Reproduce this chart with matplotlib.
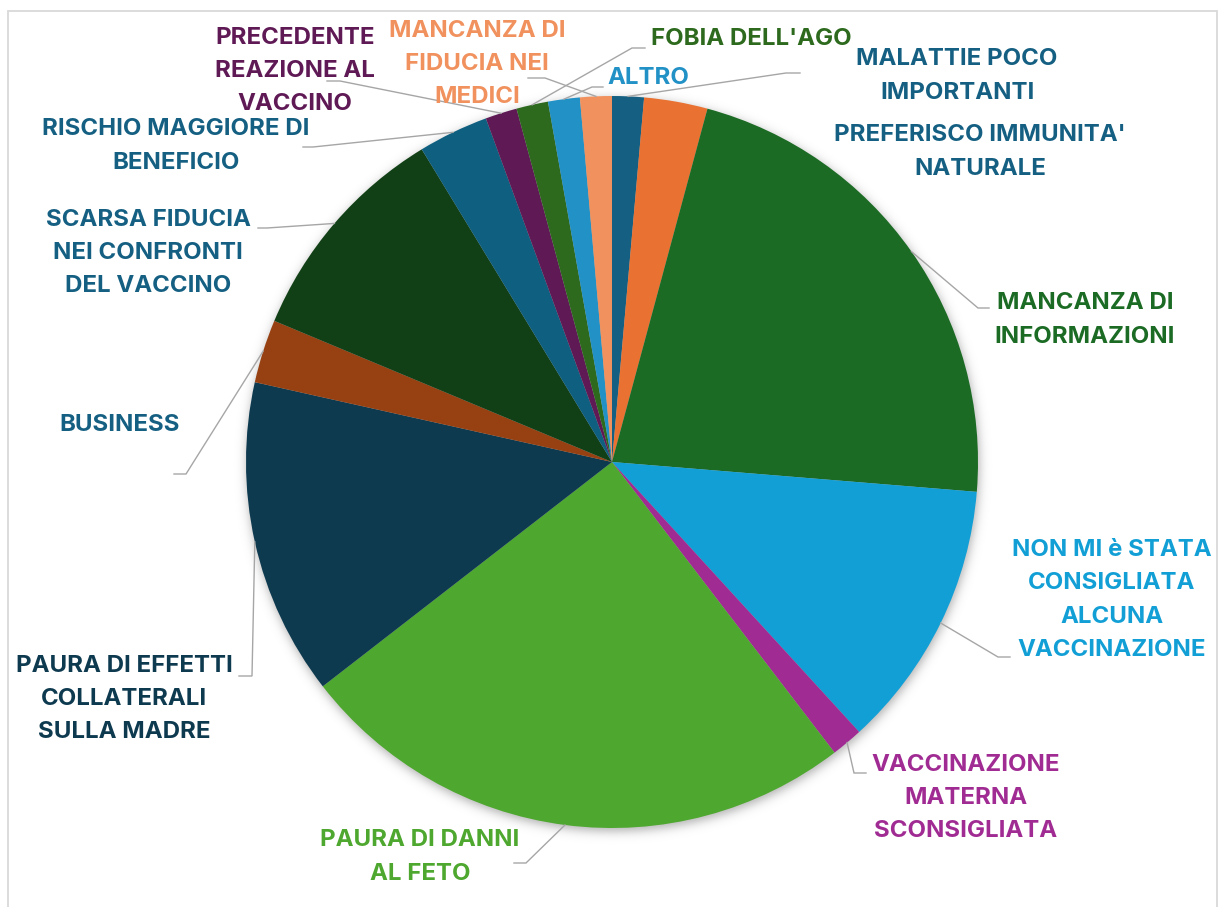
import numpy as np
import matplotlib
matplotlib.use("Agg")
import matplotlib.pyplot as plt
from matplotlib.patches import Rectangle

W, H = 1224, 907

categories = [
    "MALATTIE POCO\nIMPORTANTI",
    "PREFERISCO IMMUNITA'\nNATURALE",
    "MANCANZA DI\nINFORMAZIONI",
    "NON MI è STATA\nCONSIGLIATA\nALCUNA\nVACCINAZIONE",
    "VACCINAZIONE\nMATERNA\nSCONSIGLIATA",
    "PAURA DI DANNI\nAL FETO",
    "PAURA DI EFFETTI\nCOLLATERALI\nSULLA MADRE",
    "BUSINESS",
    "SCARSA FIDUCIA\nNEI CONFRONTI\nDEL VACCINO",
    "RISCHIO MAGGIORE DI\nBENEFICIO",
    "PRECEDENTE\nREAZIONE AL\nVACCINO",
    "FOBIA DELL'AGO",
    "ALTRO",
    "MANCANZA DI\nFIDUCIA NEI\nMEDICI",
]
values = [1.4, 2.8, 22.1, 11.9, 1.4, 24.9, 14.0, 2.8, 10.0, 3.1, 1.4, 1.4, 1.4, 1.4]

slice_colors = [
    "#156082", "#E97132", "#1B6B24", "#129FD6", "#A02B93", "#4EA72E", "#0E3A50",
    "#974112", "#124016", "#0E5F80", "#5F1A56", "#2D6A1E", "#2191C6", "#F0915E",
]
label_colors = [
    "#156082", "#156082", "#1B6B24", "#129FD6", "#A02B93", "#4EA72E", "#0E3A50",
    "#156082", "#156082", "#156082", "#5F1A56", "#2D6A1E", "#2191C6", "#F0915E",
]

# label centres and leader-line bends, in pixels measured from the top-left
label_xy = [
    (957, 76), (980, 152), (1085, 320), (1112, 600), (966, 798), (420, 857),
    (124, 699), (120, 425), (148, 253), (176, 146), (295, 71), (751, 39),
    (648, 78), (477, 64),
]
leader_bends = [
    [(786, 73), (800, 73)],
    None,
    [(978, 308), (989, 308)],
    [(998, 657), (1010, 657)],
    [(854, 773), (866, 773)],
    [(526, 863), (514, 863)],
    [(252, 676), (239, 676)],
    [(186, 474), (174, 474)],
    [(267, 228), (258, 228)],
    [(313, 147), (303, 147)],
    [(340, 81), (327, 81)],
    [(632, 48), (645, 48)],
    [(592, 87), (603, 87)],
    [(545, 78), (528, 78)],
]


def px(x, y):
    return x, H - y


plt.rcParams["font.family"] = ["Inter", "DejaVu Sans"]

fig = plt.figure(figsize=(W / 100, H / 100), dpi=100)
ax = fig.add_axes([0, 0, 1, 1])

cx, cy = px(612, 462)
R = 366

wedges, _ = ax.pie(
    values, colors=slice_colors, startangle=90, counterclock=False,
    center=(cx, cy), radius=R, wedgeprops=dict(linewidth=0, zorder=2),
)

# soft shadow under the pie
pad = 40
xs = np.arange(cx - R - pad, cx + R + pad, 1.0)
ys = np.arange(cy - R - pad, cy + R + pad, 1.0)
gx, gy = np.meshgrid(xs, ys)
d = np.hypot(gx - cx - 1, gy - cy + 3)
alpha = 0.30 / (1.0 + np.exp((d - (R + 1)) / 3.0))
img = np.zeros(gx.shape + (4,))
img[..., 3] = alpha
ax.imshow(img, extent=(xs[0], xs[-1], ys[0], ys[-1]), origin="lower",
          zorder=1, interpolation="bilinear")

for w, text, col, (lx, ly), bends in zip(wedges, categories, label_colors,
                                          label_xy, leader_bends):
    if bends is not None:
        mid = np.deg2rad((w.theta1 + w.theta2) / 2)
        sx, sy = cx + R * np.cos(mid), cy + R * np.sin(mid)
        pts = [(sx, sy)] + [px(bx, by) for bx, by in bends]
        ax.plot([p[0] for p in pts], [p[1] for p in pts], color="#A6A6A6",
                lw=1.0, zorder=3, solid_joinstyle="miter")
    tx, ty = px(lx, ly)
    ax.text(tx, ty, text, color=col, fontsize=17.3, fontweight="bold",
            ha="center", va="center", multialignment="center",
            linespacing=1.66, zorder=4)

ax.add_patch(Rectangle((8, -10), 1209, H - 11 + 10, fill=False,
                       edgecolor="#D9D9D9", lw=1.3, zorder=5))

ax.set_xlim(0, W)
ax.set_ylim(0, H)
ax.set_aspect("equal")
ax.axis("off")

fig.savefig("out.png", dpi=100, facecolor="white")
